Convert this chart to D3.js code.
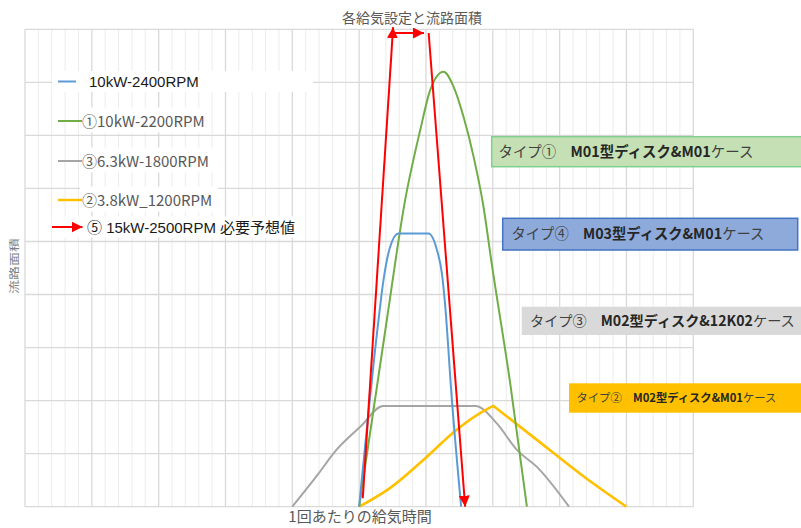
<!DOCTYPE html>
<html>
<head>
<meta charset="utf-8">
<script src="https://cdn.jsdelivr.net/npm/d3@7/dist/d3.min.js"></script>
<style>
  body { margin: 0; background: #fff; }
  svg { display: block; }
</style>
</head>
<body>
<svg id="chart" width="801" height="528"></svg>
<script>
// ---- texts ----
const chartTitle = "各給気設定と流路面積";
const xTitle = "1回あたりの給気時間";
const yTitle = "流路面積";

// ---- grid ticks (time units along x, area units along y) ----
const xMinorTicks = d3.range(0, 51, 1);
const xMajorTicks = d3.range(0, 51, 5);
const yMajorTicks = d3.range(0, 10, 1);

// ---- series: [time, flow area] ----
const gray1800 = [[20.0, 0], [21.8, 0.57], [23.3, 1.07], [25.1, 1.51], [26.8, 1.9], [33.7, 1.9],
  [35.3, 1.57], [36.8, 1.07], [38.3, 0.75], [40.7, 0]];
const yellow1200 = [[25.0, 0], [27.3, 0.35], [29.8, 0.88], [32.3, 1.45], [34.3, 1.8], [35.05, 1.9],
  [38.3, 1.26], [41.8, 0.57], [45.0, 0]];
const green2200 = [[25.0, 0], [27.07, 3.52], [28.44, 5.78], [29.57, 7.1], [30.31, 7.85], [31.31, 8.2],
  [32.06, 7.92], [32.81, 7.35], [33.56, 6.6], [34.3, 5.66], [34.88, 4.65], [36.3, 2.33], [37.55, 0]];
const blue2400 = [[25.0, 0], [26.45, 3.52], [26.82, 4.27], [27.32, 4.9], [27.94, 5.15], [30.19, 5.15],
  [30.82, 4.84], [31.19, 4.4], [31.4, 3.9], [31.94, 2.01], [32.63, 0]];

// required estimate for 15kW-2500RPM: rising edge, opening span, falling edge
const redRise = [[25.27, 0.16], [27.54, 9.04]];
const redSpan = [[27.6, 8.93], [29.85, 8.93]];
const redFall = [[30.2, 8.93], [32.93, 0]];

// ---- legend ----
const legendLabels = ["10kW-2400RPM", "①10kW-2200RPM", "③6.3kW-1800RPM", "②3.8kW_1200RPM", "⑤ 15kW-2500RPM 必要予想値"];
const legendColors = ["#5b9bd5", "#70ad47", "#a5a5a5", "#ffc000", "#ff0000"];

// ---- type call-outs: prefix, emphasised part, suffix ----
const typePrefix = ["タイプ①　", "タイプ④　", "タイプ③　", "タイプ②　"];
const typeModel = ["M01型ディスク&M01", "M03型ディスク&M01", "M02型ディスク&12K02", "M02型ディスク&M01"];
const typeSuffix = ["ケース", "ケース", "ケース", "ケース"];

const svg = d3.select("#chart");
const plot = { left: 25, right: 693.3, top: 29.3, bottom: 506.7 };

const x = d3.scaleLinear().domain([0, 50]).range([plot.left, plot.right]);
const y = d3.scaleLinear().domain([0, 9]).range([plot.bottom, plot.top]);

// ---- grid ----
const grid = svg.append("g");
grid.selectAll("line.minor").data(xMinorTicks.filter(d => d % 5 !== 0)).enter()
  .append("line").attr("class", "minor")
  .attr("x1", d => x(d)).attr("x2", d => x(d))
  .attr("y1", plot.top).attr("y2", plot.bottom)
  .attr("stroke", "#ececec").attr("stroke-width", 1);
grid.selectAll("line.vmajor").data(xMajorTicks).enter()
  .append("line").attr("class", "vmajor")
  .attr("x1", d => x(d)).attr("x2", d => x(d))
  .attr("y1", plot.top).attr("y2", plot.bottom)
  .attr("stroke", "#d9d9d9").attr("stroke-width", 1.3);
grid.selectAll("line.hmajor").data(yMajorTicks).enter()
  .append("line").attr("class", "hmajor")
  .attr("x1", plot.left).attr("x2", plot.right)
  .attr("y1", d => y(d)).attr("y2", d => y(d))
  .attr("stroke", "#d9d9d9").attr("stroke-width", 1.3);

// ---- titles ----
svg.append("text").text(chartTitle)
  .attr("x", 412).attr("y", 23).attr("text-anchor", "middle")
  .attr("font-family", "'Noto Sans CJK JP', sans-serif").attr("font-size", 14)
  .attr("fill", "#595959");
svg.append("text").text(xTitle)
  .attr("x", 360).attr("y", 522).attr("text-anchor", "middle")
  .attr("font-family", "'Noto Sans CJK JP', sans-serif").attr("font-size", 15)
  .attr("fill", "#595959");
svg.append("text").text(yTitle)
  .attr("transform", "translate(18,266) rotate(-90) scale(1,0.75)").attr("text-anchor", "middle")
  .attr("font-family", "'Noto Sans CJK JP', sans-serif").attr("font-size", 14)
  .attr("fill", "#7f7f7f");

// ---- legend ----
const legendRows = [81.5, 121, 161, 200, 227];
const legend = svg.append("g");
legendLabels.forEach((label, i) => {
  const g = legend.append("g");
  const bg = g.append("rect").attr("fill", "#fff");
  const isArial = (i === 0 || i === 4);
  const tx = i === 0 ? 89 : (i === 4 ? 87 : 82);
  const t = g.append("text")
    .attr("x", tx).attr("y", legendRows[i] + 5.5)
    .attr("font-family", isArial ? "'Liberation Sans', Arial, 'Noto Sans CJK JP', sans-serif" : "'Noto Sans CJK JP', sans-serif")
    .attr("font-size", 15)
    .attr("fill", isArial ? "#1a1a1a" : "#595959")
    .text(label);
  const bb = t.node().getBBox();
  const bx = i === 0 || i === 4 ? 52 : bb.x - 2;
  const bw = i === 0 ? 313 - 52 : (i === 4 ? bb.x + bb.width + 6 - 52 : bb.width + 8);
  bg.attr("x", bx).attr("y", bb.y - 2).attr("width", bw).attr("height", bb.height + 4);
  if (i < 4) {
    g.append("line")
      .attr("x1", 58).attr("x2", i === 0 ? 76 : 82)
      .attr("y1", legendRows[i]).attr("y2", legendRows[i])
      .attr("stroke", legendColors[i]).attr("stroke-width", i === 3 ? 2.5 : 2);
  }
});

// arrow marker
const defs = svg.append("defs");
defs.append("marker").attr("id", "arrowRed")
  .attr("markerUnits", "userSpaceOnUse")
  .attr("viewBox", "0 0 10 10").attr("refX", 10).attr("refY", 5)
  .attr("markerWidth", 11).attr("markerHeight", 11)
  .attr("orient", "auto")
  .append("path").attr("d", "M0,0 L10,5 L0,10 Z").attr("fill", "#ff0000");

// legend arrow for the required estimate
legend.append("line")
  .attr("x1", 52).attr("x2", 82.5)
  .attr("y1", legendRows[4]).attr("y2", legendRows[4])
  .attr("stroke", "#ff0000").attr("stroke-width", 2)
  .attr("marker-end", "url(#arrowRed)");

// ---- type call-out boxes ----
const boxes = [
  { x: 491.7, y: 136.7, w: 320, h: 30, fill: "#c5e0b4", stroke: "#7fcf8f", size: 15, tx: 498.5, len: 255 },
  { x: 502.7, y: 218.3, w: 295, h: 31.7, fill: "#8eaadb", stroke: "#4472c4", size: 15, tx: 511.5, len: 253 },
  { x: 521.7, y: 306.7, w: 290, h: 28.3, fill: "#d9d9d9", stroke: "none", size: 15, tx: 530, len: 265 },
  { x: 569, y: 383.3, w: 240, h: 29.4, fill: "#ffc000", stroke: "none", size: 12, tx: 576.5, len: 200 }
];
boxes.forEach((b, i) => {
  svg.append("rect")
    .attr("x", b.x).attr("y", b.y).attr("width", b.w).attr("height", b.h)
    .attr("fill", b.fill).attr("stroke", b.stroke).attr("stroke-width", 1.5);
  const t = svg.append("text")
    .attr("x", b.tx)
    .attr("font-family", "'Noto Sans CJK JP', sans-serif")
    .attr("font-size", b.size).attr("fill", "#333");
  t.append("tspan").text(typePrefix[i]).attr("fill", "#404040");
  t.append("tspan").text(typeModel[i]).attr("font-weight", 700).attr("fill", "#262626");
  t.append("tspan").text(typeSuffix[i]).attr("fill", "#404040");
  // fit the label to the box by adjusting its font size
  const natural = t.node().getComputedTextLength();
  const fs = b.size * b.len / natural;
  t.attr("font-size", fs).attr("y", b.y + b.h / 2 + fs * 0.36);
});

// ---- curves ----
const smooth = d3.line().x(d => x(d[0])).y(d => y(d[1])).curve(d3.curveMonotoneX);
const curves = svg.append("g").attr("fill", "none");
curves.append("path").datum(gray1800).attr("d", smooth).attr("stroke", "#a5a5a5").attr("stroke-width", 2);
// the 1200RPM curve has a pointed top: draw rising and falling flanks separately
const yPeak = d3.maxIndex(yellow1200, d => d[1]);
curves.append("path")
  .attr("d", smooth(yellow1200.slice(0, yPeak + 1)) + smooth(yellow1200.slice(yPeak)).replace(/^M/, "L"))
  .attr("stroke", "#ffc000").attr("stroke-width", 2.6).attr("stroke-linejoin", "miter");
curves.append("path").datum(green2200).attr("d", smooth).attr("stroke", "#70ad47").attr("stroke-width", 2);
curves.append("path").datum(blue2400).attr("d", smooth).attr("stroke", "#5b9bd5").attr("stroke-width", 2);

const straight = d3.line().x(d => x(d[0])).y(d => y(d[1]));
[redRise, redSpan, redFall].forEach(seg => {
  curves.append("path").datum(seg).attr("d", straight)
    .attr("stroke", "#ff0000").attr("stroke-width", 2)
    .attr("marker-end", "url(#arrowRed)");
});
</script>
</body>
</html>
